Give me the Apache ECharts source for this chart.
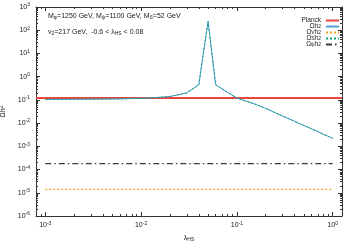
<!DOCTYPE html>
<html><head><meta charset="utf-8">
<script src="https://cdn.jsdelivr.net/npm/echarts@6/dist/echarts.min.js"></script>
<style>html,body{margin:0;padding:0;background:#fff}#c{width:354px;height:248px}</style>
</head><body><div id="c"></div>
<script>
// ---- data ----
const lambdaHS = [0.001, 0.002, 0.005, 0.01, 0.015, 0.02, 0.03, 0.04, 0.05, 0.06, 0.08, 0.1, 0.15, 0.2, 0.3, 0.4, 0.5, 0.6, 0.7, 0.8, 0.9, 1.0];
const omegaTotal = [0.105, 0.106, 0.109, 0.117, 0.128, 0.14, 0.2, 0.45, 240, 0.45, 0.21, 0.12, 0.069, 0.043, 0.02, 0.012, 0.0079, 0.0057, 0.0043, 0.0033, 0.0027, 0.0022];
const omegaS = [0.105, 0.106, 0.109, 0.117, 0.128, 0.14, 0.2, 0.45, 240, 0.45, 0.21, 0.12, 0.069, 0.043, 0.02, 0.012, 0.0079, 0.0057, 0.0043, 0.0033, 0.0027, 0.0022];
const constLambda = [0.001, 1.0];
const omegaV = [1.4e-5, 1.4e-5];
const omegaPsi = [1.8e-4, 1.8e-4];
const planckLambda = [0.0008, 1.25];
const planck = [0.12, 0.12];
const xRange = [0.0008, 1.25];
const yRange = [1e-6, 1e3];
const seriesNames = ['Planck', 'Ωh2', 'ΩVh2', 'ΩSh2', 'Ωψh2'];
const legendLabels = {
  'Planck': 'Planck',
  'Ωh2': 'Ωh{sup|2}',
  'ΩVh2': 'Ω{sub|V}h{sup|2}',
  'ΩSh2': 'Ω{sub|S}h{sup|2}',
  'Ωψh2': 'Ω{sub|ψ}h{sup|2}'
};

const pairs = (xs, ys) => xs.map((x, i) => [x, ys[i]]);
const FONT = 'Liberation Sans, Arial, sans-serif';
const TXT = '#1a1a1a';
const FRAME = '#333';

function minorLogs(lo, hi) {
  const out = [];
  for (let e = Math.floor(Math.log10(lo)); e <= Math.ceil(Math.log10(hi)); e++) {
    for (let k = 2; k <= 9; k++) {
      const v = k * Math.pow(10, e);
      if (v >= lo && v <= hi) out.push(Math.log10(v));
    }
  }
  return out;
}
const expRich = {
  b: { fontSize: 7, fontFamily: FONT, color: TXT },
  s: { fontSize: 5, fontFamily: FONT, color: TXT, verticalAlign: 'top', padding: [0, 0, 4, 0] }
};
function powLabel(v) {
  const l = Math.log10(v);
  const e = Math.round(l);
  if (Math.abs(l - e) > 1e-6) return '';
  return '{b|10}{s|' + e + '}';
}

const majorX = (pos, labels) => ({
  type: 'log', logBase: 10, min: xRange[0], max: xRange[1], position: pos,
  axisLine: { show: true, onZero: false, lineStyle: { color: FRAME, width: 1 } },
  axisTick: { show: true, inside: true, length: 4, lineStyle: { color: FRAME } },
  axisLabel: { show: labels, margin: 5, formatter: powLabel, rich: expRich },
  splitLine: { show: false }
});
const minorX = (pos) => ({
  type: 'value', min: Math.log10(xRange[0]), max: Math.log10(xRange[1]), position: pos,
  axisLine: { show: false, onZero: false },
  axisTick: { show: true, inside: true, length: 2, customValues: minorLogs(xRange[0], xRange[1]), lineStyle: { color: FRAME } },
  axisLabel: { show: false }, splitLine: { show: false }
});
const majorY = (pos, labels) => ({
  type: 'log', logBase: 10, min: yRange[0], max: yRange[1], position: pos, splitNumber: 9,
  axisLine: { show: true, onZero: false, lineStyle: { color: FRAME, width: 1 } },
  axisTick: { show: true, inside: true, length: 4, lineStyle: { color: FRAME } },
  axisLabel: { show: labels, margin: 6, formatter: powLabel, rich: expRich },
  splitLine: { show: false }
});
const minorY = (pos) => ({
  type: 'value', min: Math.log10(yRange[0]), max: Math.log10(yRange[1]), position: pos,
  axisLine: { show: false, onZero: false },
  axisTick: { show: true, inside: true, length: 2, customValues: minorLogs(yRange[0], yRange[1]), lineStyle: { color: FRAME } },
  axisLabel: { show: false }, splitLine: { show: false }
});

const xMain = majorX('bottom', true);
xMain.name = '{l|λ}{sub|HS}';
xMain.nameLocation = 'middle';
xMain.nameGap = 18;
xMain.nameTextStyle = { rich: {
  l: { fontSize: 7, fontFamily: FONT, color: TXT },
  sub: { fontSize: 5, fontFamily: FONT, color: TXT, verticalAlign: 'bottom', padding: [3, 0, 0, 0] } } };
const yMain = majorY('left', true);
yMain.name = '{l|Ωh}{sup|2}';
yMain.nameLocation = 'middle';
yMain.nameGap = 22;
yMain.nameRotate = 90;
yMain.nameTextStyle = { rich: {
  l: { fontSize: 7, fontFamily: FONT, color: TXT },
  sup: { fontSize: 5, fontFamily: FONT, color: TXT, verticalAlign: 'top', padding: [0, 0, 4, 0] } } };

const chart = echarts.init(document.getElementById('c'), null, { renderer: 'canvas' });
chart.setOption({
  animation: false,
  backgroundColor: '#fff',
  grid: { left: 36, right: 12, top: 7, bottom: 32, containLabel: false, outerBoundsMode: 'none' },
  xAxis: [xMain, minorX('bottom'), majorX('top', false), minorX('top')],
  yAxis: [yMain, minorY('left'), majorY('right', false), minorY('right')],
  legend: {
    orient: 'vertical', right: 14, top: 17, align: 'right', padding: 0,
    itemGap: -1, itemWidth: 13, itemHeight: 5,
    data: seriesNames,
    itemStyle: { opacity: 0 },
    formatter: (n) => legendLabels[n],
    textStyle: {
      fontSize: 6.5, fontFamily: FONT, color: TXT, lineHeight: 5,
      rich: {
        sub: { fontSize: 5, fontFamily: FONT, color: TXT, lineHeight: 5, verticalAlign: 'bottom' },
        sup: { fontSize: 5, fontFamily: FONT, color: TXT, lineHeight: 5, verticalAlign: 'top' }
      }
    }
  },
  graphic: [
    { type: 'text', left: 48, top: 13, style: {
      text: '{a|M}{s|φ}{a|=1250 GeV, M}{s|ψ}{a|=1100 GeV, M}{s|S}{a|=52 GeV}',
      rich: {
        a: { fontSize: 7, fontFamily: FONT, fill: TXT },
        s: { fontSize: 5, fontFamily: FONT, fill: TXT, verticalAlign: 'bottom', padding: [3, 0, 0, 0] } } } },
    { type: 'text', left: 48, top: 29, style: {
      text: '{a|v}{s|2}{a|=217 GeV,  -0.6 < λ}{s|HS}{a| < 0.08}',
      rich: {
        a: { fontSize: 7, fontFamily: FONT, fill: TXT },
        s: { fontSize: 5, fontFamily: FONT, fill: TXT, verticalAlign: 'bottom', padding: [3, 0, 0, 0] } } } }
  ],
  series: [
    { name: 'Planck', type: 'line', xAxisIndex: 0, yAxisIndex: 0, symbol: 'none',
      data: pairs(planckLambda, planck), lineStyle: { color: '#e8453c', width: 2 }, itemStyle: { color: '#e8453c' } },
    { name: 'Ωh2', type: 'line', xAxisIndex: 0, yAxisIndex: 0, symbol: 'none',
      data: pairs(lambdaHS, omegaTotal), lineStyle: { color: '#4f9fd6', width: 1 }, itemStyle: { color: '#4f9fd6' } },
    { name: 'ΩVh2', type: 'line', xAxisIndex: 0, yAxisIndex: 0, symbol: 'none',
      data: pairs(constLambda, omegaV), lineStyle: { color: '#f0a21e', width: 1.2, type: [2, 2] }, itemStyle: { color: '#f0a21e' } },
    { name: 'ΩSh2', type: 'line', xAxisIndex: 0, yAxisIndex: 0, symbol: 'none',
      data: pairs(lambdaHS, omegaS), lineStyle: { color: '#0f9e7a', width: 1, type: [2, 2] }, itemStyle: { color: '#0f9e7a' } },
    { name: 'Ωψh2', type: 'line', xAxisIndex: 0, yAxisIndex: 0, symbol: 'none',
      data: pairs(constLambda, omegaPsi), lineStyle: { color: '#3a3a3a', width: 1.2, type: [6, 3, 1.5, 3] }, itemStyle: { color: '#3a3a3a' } }
  ]
});
</script>
</body></html>
